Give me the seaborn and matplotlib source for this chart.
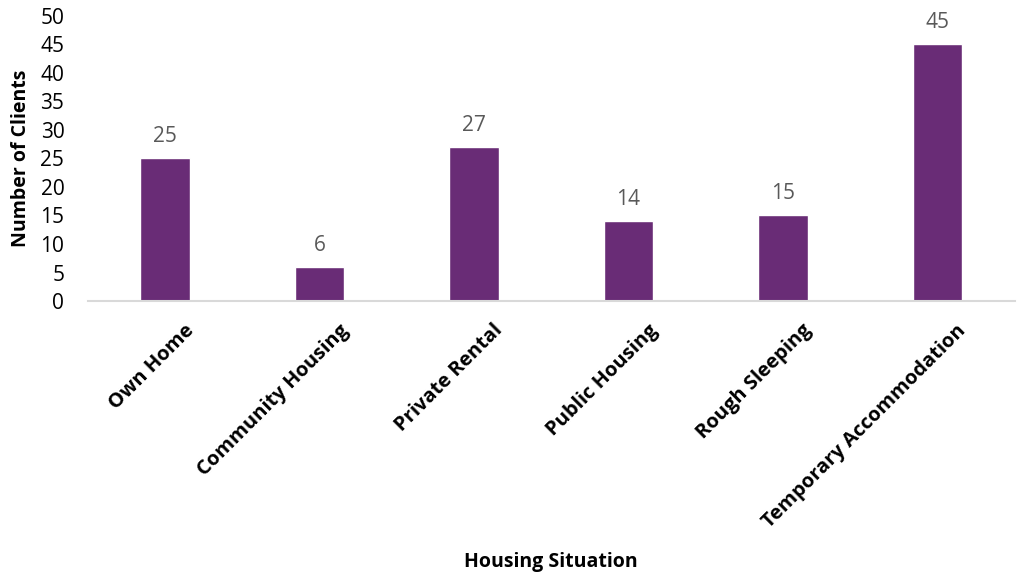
import matplotlib
matplotlib.use("Agg")
import matplotlib.pyplot as plt
import seaborn as sns
import pandas as pd

categories = ["Own Home", "Community Housing", "Private Rental", "Public Housing",
              "Rough Sleeping", "Temporary Accommodation"]
clients = [25, 6, 27, 14, 15, 45]
y_ticks = [0, 5, 10, 15, 20, 25, 30, 35, 40, 45, 50]

sns.set_theme(style="white")
plt.rcParams["font.family"] = ["Open Sans", "DejaVu Sans"]

df = pd.DataFrame({"Housing Situation": categories, "Number of Clients": clients})

fig = plt.figure(figsize=(10.3, 5.74), dpi=100)
ax = fig.add_axes([0.0854, 0.4756, 0.8996, 0.4966])

sns.barplot(data=df, x="Housing Situation", y="Number of Clients", ax=ax,
            color="#692C76", saturation=1, width=0.32)

for i, v in enumerate(clients):
    ax.annotate(str(v), (i, v), xytext=(0, 8), textcoords="offset points",
                ha="center", va="bottom", fontsize=15, color="#595959")

ax.set_ylim(0, 50)
ax.set_xlim(-0.5, len(categories) - 0.5)
ax.set_yticks(y_ticks)
ax.set_yticklabels([str(t) for t in y_ticks], fontsize=15, color="#000000")
ax.set_xticks(range(len(categories)))
ax.set_xticklabels(categories, rotation=45, ha="right", rotation_mode="anchor",
                   fontsize=14.5, fontweight="bold", color="#000000")
ax.tick_params(axis="y", length=0, pad=17)
ax.tick_params(axis="x", length=0, pad=14)
for lbl in ax.get_xticklabels():
    lbl.set_transform(lbl.get_transform() + matplotlib.transforms.ScaledTranslation(
        0.19, 0, fig.dpi_scale_trans))

for side in ["left", "right", "top"]:
    ax.spines[side].set_visible(False)
ax.spines["bottom"].set_color("#D9D9D9")
ax.spines["bottom"].set_linewidth(1.5)

ax.set_xlabel("Housing Situation", fontsize=14, fontweight="bold", color="#000000")
ax.xaxis.set_label_coords(0.5, -0.88)
ax.set_ylabel("Number of Clients", fontsize=14, fontweight="bold", color="#000000")
ax.yaxis.set_label_coords(-0.062, 0.5)

fig.savefig("out.png", dpi=100, facecolor="white")
